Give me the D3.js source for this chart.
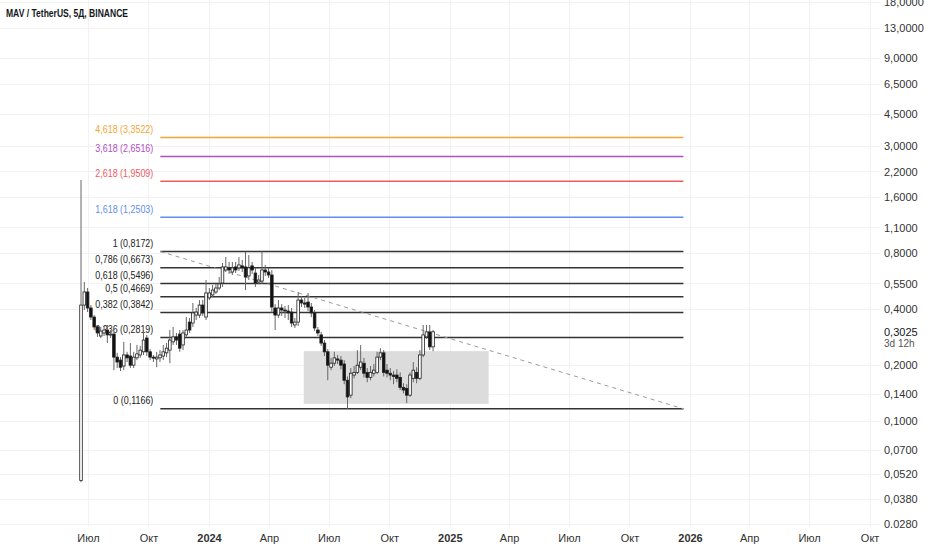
<!DOCTYPE html>
<html>
<head>
<meta charset="utf-8">
<script src="https://cdn.jsdelivr.net/npm/d3@7"></script>
<style>
body { margin: 0; background: #fff; }
svg { display: block; font-family: "Liberation Sans", Arial, sans-serif; }
</style>
</head>
<body>
<div id="chart"></div>
<script>
// MAV / USDT, 5-day candles
var candleStart = "2023-06-18";
var candleDays = 5;

var candleOpen = [0.048, 0.421, 0.495, 0.406, 0.363, 0.321, 0.287, 0.298, 0.309, 0.291,
  0.294, 0.221, 0.213, 0.198, 0.227, 0.224, 0.200, 0.219, 0.227, 0.236,
  0.280, 0.236, 0.221, 0.216, 0.219, 0.224, 0.233, 0.241, 0.267, 0.284,
  0.294, 0.257, 0.291, 0.341, 0.337, 0.372, 0.372, 0.421, 0.363, 0.460,
  0.477, 0.495, 0.520, 0.553, 0.650, 0.667, 0.634, 0.675, 0.667, 0.684,
  0.675, 0.604, 0.684, 0.626, 0.560, 0.567, 0.650, 0.634, 0.611, 0.406,
  0.372, 0.406, 0.396, 0.391, 0.386, 0.329, 0.341, 0.448, 0.432, 0.437,
  0.411, 0.382, 0.309, 0.291, 0.263, 0.236, 0.195, 0.205, 0.216, 0.213,
  0.203, 0.166, 0.138, 0.177, 0.183, 0.195, 0.205, 0.183, 0.172, 0.181,
  0.183, 0.221, 0.233, 0.188, 0.181, 0.177, 0.177, 0.172, 0.152, 0.150,
  0.138, 0.170, 0.183, 0.170, 0.227, 0.284, 0.302, 0.251];

var candleHigh = [1.98, 0.560, 0.520, 0.421, 0.372, 0.329, 0.321, 0.325, 0.329, 0.309,
  0.302, 0.233, 0.221, 0.267, 0.236, 0.263, 0.236, 0.257, 0.254, 0.309,
  0.291, 0.244, 0.227, 0.236, 0.241, 0.257, 0.263, 0.309, 0.321, 0.298,
  0.309, 0.309, 0.363, 0.359, 0.432, 0.406, 0.448, 0.448, 0.574, 0.520,
  0.540, 0.547, 0.596, 0.709, 0.763, 0.718, 0.718, 0.718, 0.763, 0.736,
  0.812, 0.782, 0.718, 0.667, 0.611, 0.817, 0.692, 0.667, 0.650, 0.426,
  0.448, 0.426, 0.416, 0.421, 0.406, 0.359, 0.495, 0.471, 0.460, 0.489,
  0.432, 0.396, 0.321, 0.302, 0.273, 0.244, 0.219, 0.236, 0.227, 0.224,
  0.213, 0.174, 0.193, 0.198, 0.241, 0.257, 0.219, 0.193, 0.198, 0.203,
  0.236, 0.247, 0.241, 0.203, 0.193, 0.186, 0.190, 0.183, 0.160, 0.158,
  0.183, 0.208, 0.195, 0.241, 0.329, 0.329, 0.329, 0.309];

var candleLow = [0.047, 0.396, 0.386, 0.350, 0.309, 0.284, 0.280, 0.287, 0.263, 0.280,
  0.188, 0.193, 0.186, 0.188, 0.208, 0.193, 0.193, 0.213, 0.219, 0.227,
  0.224, 0.213, 0.208, 0.195, 0.208, 0.213, 0.221, 0.205, 0.257, 0.257,
  0.236, 0.241, 0.284, 0.298, 0.321, 0.350, 0.359, 0.368, 0.350, 0.448,
  0.465, 0.483, 0.507, 0.527, 0.634, 0.619, 0.611, 0.626, 0.642, 0.634,
  0.507, 0.574, 0.619, 0.527, 0.547, 0.547, 0.604, 0.589, 0.382, 0.309,
  0.359, 0.368, 0.359, 0.350, 0.321, 0.317, 0.325, 0.411, 0.406, 0.391,
  0.363, 0.305, 0.287, 0.254, 0.224, 0.166, 0.188, 0.198, 0.203, 0.190,
  0.158, 0.1166, 0.133, 0.170, 0.179, 0.188, 0.172, 0.162, 0.166, 0.174,
  0.179, 0.213, 0.174, 0.172, 0.166, 0.158, 0.162, 0.147, 0.141, 0.125,
  0.135, 0.162, 0.160, 0.166, 0.221, 0.277, 0.241, 0.238];

var candleClose = [0.421, 0.495, 0.406, 0.363, 0.321, 0.298, 0.305, 0.309, 0.291, 0.294,
  0.221, 0.208, 0.195, 0.227, 0.219, 0.200, 0.221, 0.230, 0.241, 0.273,
  0.236, 0.221, 0.219, 0.221, 0.227, 0.236, 0.247, 0.273, 0.284, 0.273,
  0.247, 0.298, 0.309, 0.309, 0.382, 0.386, 0.421, 0.382, 0.489, 0.489,
  0.507, 0.520, 0.547, 0.675, 0.675, 0.650, 0.667, 0.650, 0.692, 0.667,
  0.596, 0.667, 0.650, 0.553, 0.574, 0.650, 0.634, 0.611, 0.411, 0.372,
  0.406, 0.396, 0.391, 0.382, 0.337, 0.341, 0.448, 0.432, 0.426, 0.411,
  0.382, 0.317, 0.298, 0.263, 0.236, 0.200, 0.205, 0.219, 0.213, 0.200,
  0.166, 0.135, 0.181, 0.183, 0.200, 0.208, 0.181, 0.172, 0.183, 0.188,
  0.221, 0.233, 0.183, 0.181, 0.177, 0.174, 0.170, 0.152, 0.147, 0.138,
  0.177, 0.188, 0.170, 0.227, 0.291, 0.302, 0.251, 0.3025];

// fibonacci tool
var fibStart = "2023-10-19", fibEnd = "2025-12-22";
var fibRatios = ["0", "0,236", "0,382", "0,5", "0,618", "0,786", "1", "1,618", "2,618", "3,618", "4,618"];
var fibPrices = [0.1166, 0.2819, 0.3842, 0.4669, 0.5496, 0.6673, 0.8172, 1.2503, 1.9509, 2.6516, 3.3522];
var fibColors = ["#333", "#333", "#333", "#333", "#333", "#333", "#333", "#5f8ef0", "#ef5a5f", "#b24dc4", "#f5a534"];

// grey range box
var boxStart = "2024-05-24", boxEnd = "2025-03-01";
var boxTop = 0.238, boxBottom = 0.124;

var lastPrice = 0.3025;
var countdown = "3d 12h";

// axes
var priceTicks = [18, 13, 9, 6.5, 4.5, 3, 2.2, 1.6, 1.1, 0.8, 0.55, 0.4, 0.2, 0.14, 0.1, 0.07, 0.052, 0.038, 0.028];
var timeTicks = ["2023-07-01", "2023-10-01", "2024-01-01", "2024-04-01", "2024-07-01", "2024-10-01",
  "2025-01-01", "2025-04-01", "2025-07-01", "2025-10-01", "2026-01-01", "2026-04-01", "2026-07-01", "2026-10-01"];
var timeLabels = ["Июл", "Окт", "2024", "Апр", "Июл", "Окт", "2025", "Апр", "Июл", "Окт", "2026", "Апр", "Июл", "Окт"];

var width = 932, height = 550;
var paneRight = 880, paneBottom = 527;
var parse = d3.timeParse("%Y-%m-%d");
var comma = function(v, f) { return d3.format(f)(v).replace(".", ","); };

var svg = d3.select("#chart").append("svg")
    .attr("width", width)
    .attr("height", height);

var x = d3.scaleTime()
    .domain([parse("2024-01-01"), parse("2026-01-01")])
    .range([209, 690]);
var y = d3.scaleLog()
    .domain([0.028, 13])
    .range([524, 28]);

var defs = svg.append("defs");
defs.append("clipPath").attr("id", "pane")
    .append("rect").attr("x", 0).attr("y", 0).attr("width", paneRight).attr("height", paneBottom);
defs.append("clipPath").attr("id", "priceAxis")
    .append("rect").attr("x", paneRight).attr("y", 0).attr("width", width - paneRight).attr("height", paneBottom + 1);

// grid
var grid = svg.append("g").attr("clip-path", "url(#pane)");
grid.selectAll(".hgrid").data(priceTicks).enter().append("line")
    .attr("x1", 0).attr("x2", paneRight)
    .attr("y1", function(d) { return Math.round(y(d)) + 0.5; })
    .attr("y2", function(d) { return Math.round(y(d)) + 0.5; })
    .attr("stroke", "#f2f2f2");
grid.selectAll(".vgrid").data(timeTicks).enter().append("line")
    .attr("y1", 0).attr("y2", paneBottom)
    .attr("x1", function(d) { return Math.round(x(parse(d))) + 0.5; })
    .attr("x2", function(d) { return Math.round(x(parse(d))) + 0.5; })
    .attr("stroke", "#f2f2f2");

var pane = svg.append("g").attr("clip-path", "url(#pane)");

// range box
pane.append("rect")
    .attr("x", x(parse(boxStart)))
    .attr("y", y(boxTop))
    .attr("width", x(parse(boxEnd)) - x(parse(boxStart)))
    .attr("height", y(boxBottom) - y(boxTop))
    .attr("fill", "#dcdcdd");

// fib levels
var fx1 = x(parse(fibStart)), fx2 = x(parse(fibEnd));
pane.selectAll(".fib").data(fibPrices).enter().append("line")
    .attr("x1", fx1).attr("x2", fx2)
    .attr("y1", function(d) { return y(d); })
    .attr("y2", function(d) { return y(d); })
    .attr("stroke", function(d, i) { return fibColors[i]; })
    .attr("stroke-width", 1.5);

pane.selectAll(".fibLabel").data(fibPrices).enter().append("text")
    .attr("transform", function(d) { return "translate(" + (fx1 - 7) + "," + (y(d) - 4.5) + ") scale(0.85,1)"; })
    .attr("text-anchor", "end")
    .attr("font-size", 10.5)
    .attr("fill", function(d, i) { return fibColors[i] == "#333" ? "#222" : fibColors[i]; })
    .text(function(d, i) { return fibRatios[i] + " (" + comma(d, ".4f") + ")"; });

// dashed trend line of the fib tool
pane.append("line")
    .attr("x1", fx1).attr("y1", y(fibPrices[6]))
    .attr("x2", fx2).attr("y2", y(fibPrices[0]))
    .attr("stroke", "#9a9a9a")
    .attr("stroke-width", 1)
    .attr("stroke-dasharray", "4,4");

// candles
var candles = candleOpen.map(function(o, i) {
    return {
        date: d3.timeHour.offset(d3.timeDay.offset(parse(candleStart), i * candleDays), 60),
        o: o, h: candleHigh[i], l: candleLow[i], c: candleClose[i]
    };
});

var bw = 2.6;
var g = pane.selectAll(".candle").data(candles).enter().append("g");
g.append("line")
    .attr("x1", function(d) { return x(d.date); })
    .attr("x2", function(d) { return x(d.date); })
    .attr("y1", function(d) { return y(d.h); })
    .attr("y2", function(d) { return y(d.l); })
    .attr("stroke", "#666")
    .attr("stroke-width", 1);
g.append("rect")
    .attr("x", function(d) { return x(d.date) - bw / 2; })
    .attr("width", bw)
    .attr("y", function(d) { return y(Math.max(d.o, d.c)); })
    .attr("height", function(d) { return Math.max(1, Math.abs(y(d.o) - y(d.c))); })
    .attr("fill", function(d) { return d.c >= d.o ? "#fff" : "#111"; })
    .attr("stroke", "#222")
    .attr("stroke-width", 0.8);

// price axis
var yAxisWrap = svg.append("g").attr("clip-path", "url(#priceAxis)");
var yAxis = yAxisWrap.append("g")
    .attr("transform", "translate(" + (paneRight + 4) + ",0)")
    .call(d3.axisRight(y).tickValues(priceTicks).tickSize(0).tickPadding(0)
        .tickFormat(function(d) { return comma(d, ".4f"); }));
yAxis.select(".domain").remove();
yAxis.selectAll("text")
    .attr("font-family", "Liberation Sans, Arial, sans-serif")
    .attr("font-size", 11)
    .attr("fill", "#333");

svg.append("text")
    .attr("x", paneRight + 4).attr("y", y(lastPrice))
    .attr("dy", "0.35em")
    .attr("font-size", 11)
    .attr("fill", "#131722")
    .text(comma(lastPrice, ".4f"));
svg.append("text")
    .attr("x", paneRight + 4).attr("y", y(lastPrice) + 12)
    .attr("dy", "0.35em")
    .attr("font-size", 10)
    .attr("fill", "#555")
    .text(countdown);

// time axis
var xAxis = svg.append("g")
    .attr("transform", "translate(0," + (paneBottom + 7) + ")")
    .call(d3.axisBottom(x).tickValues(timeTicks.map(parse)).tickSize(0).tickPadding(0)
        .tickFormat(function(d, i) { return timeLabels[i]; }));
xAxis.select(".domain").remove();
xAxis.selectAll("text")
    .attr("font-family", "Liberation Sans, Arial, sans-serif")
    .attr("font-size", 11)
    .attr("fill", "#333")
    .attr("font-weight", function(d, i) { return /^\d+$/.test(timeLabels[i]) ? "bold" : "normal"; });

// title
svg.append("text")
    .attr("x", 6).attr("y", 17)
    .attr("font-size", 11)
    .attr("font-weight", "bold")
    .attr("fill", "#131722")
    .attr("textLength", 122)
    .attr("lengthAdjust", "spacingAndGlyphs")
    .text("MAV / TetherUS, 5Д, BINANCE");
</script>
</body>
</html>
